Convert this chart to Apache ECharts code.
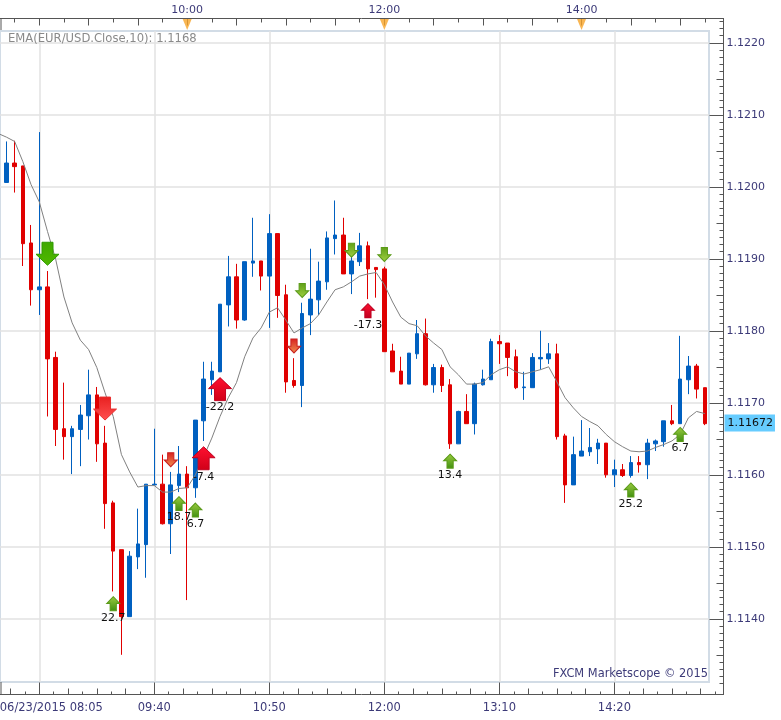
<!DOCTYPE html>
<html>
<head>
<meta charset="utf-8">
<style>html,body{margin:0;padding:0;background:#fff}#c{width:781px;height:720px}</style>
<script src="https://cdn.jsdelivr.net/npm/echarts@6/dist/echarts.min.js"></script>
</head>
<body>
<div id="c"></div>
<script>
const opens = [1.12013,1.12006,1.12033,1.12029,1.11922,1.11857,1.11861,1.11763,1.11664,1.11653,1.11663,1.11682,1.11711,1.11644,1.11561,1.11496,1.11403,1.11486,1.11503,1.11586,1.11587,1.11532,1.11585,1.11601,1.11582,1.11675,1.11732,1.11743,1.11836,1.11875,1.11815,1.11894,1.11897,1.11876,1.11935,1.11850,1.11731,1.11724,1.11822,1.11843,1.11868,1.11928,1.11933,1.11879,1.11896,1.11918,1.11888,1.11886,1.11772,1.11744,1.11726,1.11768,1.11796,1.11725,1.11749,1.11725,1.11643,1.11688,1.11671,1.11725,1.11732,1.11785,1.11783,1.11764,1.11721,1.11721,1.11761,1.11761,1.11768,1.11654,1.11586,1.11626,1.11632,1.11636,1.11644,1.11600,1.11607,1.11599,1.11617,1.11614,1.11643,1.11646,1.11675,1.11671,1.11732,1.11751,1.11721];
const closes = [1.12006,1.12033,1.12028,1.11921,1.11857,1.11861,1.11761,1.11663,1.11653,1.11664,1.11683,1.11711,1.11643,1.11560,1.11494,1.11403,1.11487,1.11504,1.11587,1.11587,1.11532,1.11586,1.11601,1.11582,1.11676,1.11733,1.11744,1.11837,1.11875,1.11815,1.11896,1.11897,1.11876,1.11935,1.11849,1.11729,1.11724,1.11824,1.11844,1.11869,1.11929,1.11933,1.11879,1.11897,1.11918,1.11886,1.11885,1.11771,1.11743,1.11726,1.11769,1.11796,1.11725,1.11749,1.11724,1.11643,1.11688,1.11671,1.11726,1.11733,1.11785,1.11782,1.11763,1.11721,1.11722,1.11763,1.11763,1.11768,1.11653,1.11586,1.11628,1.11633,1.11638,1.11644,1.11600,1.11607,1.11599,1.11617,1.11614,1.11644,1.11647,1.11675,1.11671,1.11733,1.11751,1.11719,1.11671];
const lows = [1.12003,1.12006,1.11992,1.11890,1.11835,1.11822,1.11681,1.11640,1.11621,1.11601,1.11612,1.11649,1.11618,1.11525,1.11438,1.11350,1.11403,1.11469,1.11457,1.11585,1.11531,1.11490,1.11576,1.11426,1.11568,1.11647,1.11711,1.11743,1.11806,1.11803,1.11814,1.11875,1.11856,1.11804,1.11818,1.11714,1.11721,1.11694,1.11794,1.11822,1.11857,1.11906,1.11879,1.11851,1.11890,1.11844,1.11846,1.11771,1.11743,1.11726,1.11726,1.11761,1.11724,1.11714,1.11715,1.11636,1.11643,1.11671,1.11656,1.11724,1.11732,1.11754,1.11737,1.11719,1.11704,1.11721,1.11746,1.11754,1.11649,1.11561,1.11586,1.11626,1.11626,1.11615,1.11596,1.11583,1.11597,1.11596,1.11603,1.11594,1.11633,1.11639,1.11669,1.11671,1.11712,1.11706,1.11669];
const highs = [1.12017,1.12063,1.12064,1.12029,1.11947,1.12076,1.11883,1.11771,1.11728,1.11668,1.11697,1.11746,1.11722,1.11668,1.11564,1.11496,1.11494,1.11553,1.11587,1.11664,1.11628,1.11604,1.11640,1.11612,1.11676,1.11757,1.11757,1.11837,1.11904,1.11893,1.11896,1.11957,1.11897,1.11962,1.11935,1.11864,1.11762,1.11839,1.11914,1.11896,1.11938,1.11981,1.11957,1.11904,1.11936,1.11924,1.11888,1.11889,1.11782,1.11764,1.11769,1.11815,1.11817,1.11754,1.11753,1.11733,1.11689,1.11712,1.11728,1.11746,1.11789,1.11794,1.11783,1.11774,1.11743,1.11769,1.11800,1.11783,1.11782,1.11657,1.11653,1.11676,1.11665,1.11650,1.11644,1.11621,1.11615,1.11626,1.11626,1.11650,1.11649,1.11675,1.11697,1.11793,1.11765,1.11754,1.11721];
const ema = [1.12074,1.12069,1.12063,1.12035,1.12003,1.11979,1.11938,1.11899,1.11847,1.11811,1.11787,1.11774,1.11749,1.11714,1.11681,1.11628,1.11604,1.11583,1.11585,1.11585,1.11576,1.11576,1.11581,1.11582,1.11600,1.11625,1.11651,1.11681,1.11707,1.11728,1.11764,1.11790,1.11804,1.11826,1.11832,1.11815,1.11797,1.11804,1.11810,1.11822,1.11840,1.11857,1.11861,1.11868,1.11876,1.11879,1.11881,1.11864,1.11840,1.11819,1.11810,1.11807,1.11793,1.11783,1.11774,1.11750,1.11739,1.11726,1.11726,1.11728,1.11739,1.11746,1.11750,1.11743,1.11740,1.11743,1.11746,1.11750,1.11729,1.11707,1.11693,1.11681,1.11674,1.11668,1.11656,1.11646,1.11639,1.11633,1.11632,1.11633,1.11638,1.11642,1.11647,1.11656,1.11679,1.11688,1.11685];
const categories = opens.map((_, i) => String(i));
const lastPrice = 1.11672;

// Trade signals: candle index, price level, realised P/L label
const smallGreenUpIdx = [14,22,24,55,77,83];
const smallGreenUpPrice = [1.11421,1.11560,1.11551,1.11619,1.11579,1.11656];
const smallGreenUpLabel = ['22.7','18.7','6.7','13.4','25.2','6.7'];
const smallGreenDownIdx = [37,43,47];
const smallGreenDownPrice = [1.11856,1.11912,1.11906];
const largeGreenDownIdx = [6];
const largeGreenDownPrice = [1.11907];
const largeRedDownIdx = [13];
const largeRedDownPrice = [1.11692];
const smallRedDownIdx = [21,36];
const smallRedDownPrice = [1.11621,1.11779];
const largeRedUpIdx = [25,27];
const largeRedUpPrice = [1.11623,1.11719];
const largeRedUpLabel = ['-7.4','-22.2'];
const smallRedUpIdx = [45];
const smallRedUpPrice = [1.11828];
const smallRedUpLabel = ['-17.3'];

const priceTicks = [1.114,1.115,1.116,1.117,1.118,1.119,1.120,1.121,1.122];
const bottomLabelIdx = [5,19,33,47,61,75];
const bottomLabels = ['06/23/2015 08:05','09:40','10:50','12:00','13:10','14:20'];
const topLabelIdx = [23,47,71];
const topLabels = ['10:00','12:00','14:00'];

[opens,closes,lows,highs,ema].forEach(a => { if (a.length !== 87) throw new Error('len ' + a.length); });

// Geometry
const FONT = 'DejaVu Sans';
const NAVY = '#3c3a78';
const TICK = '#555555';
const plotLeft = -5.9, plotW = 714.8;
const band = plotW / categories.length;
const plotTop = 31, plotBottom = 682, outerTop = 18.5, outerBottom = 694.5, outerRight = 723.5;
const y1140 = 618.8, pxPerPrice = 72000;
const priceAt = y => 1.114 + (y1140 - y) / pxPerPrice;
const outerXMax = -0.5 + (outerRight - plotLeft) / band;
const seq = (a, s, b) => { const r = []; for (let v = a; v <= b + 1e-9; v += s) r.push(+v.toFixed(4)); return r; };

const bottomAll = seq(5 - 2 * 1.75, 1.75, outerXMax);
const bottomTall = bottomAll.filter((v, k) => k % 2 === 0 && k % 8 !== 2);
const bottomShort = bottomAll.filter((v, k) => k % 2 === 1);
const topAll = seq(2, 3, outerXMax);
const topTall = topAll.filter((v, k) => k % 2 === 1);
const topShort = topAll.filter((v, k) => k % 2 === 0);
const minorPrices = seq(1.1131, 0.0001, 1.1224).filter(v => Math.round(v * 1e4) % 5 !== 0);
const midPrices = seq(1.1135, 0.001, 1.1225);

const outerGrid = () => ({ left: plotLeft, top: outerTop, width: outerRight - plotLeft, height: outerBottom - outerTop, show: false, outerBoundsMode: 'none', containLabel: false });
const grids = [
  { left: plotLeft, top: plotTop, width: plotW, height: plotBottom - plotTop, show: false, outerBoundsMode: 'none', containLabel: false },
  outerGrid(), outerGrid(), outerGrid(), outerGrid()
];

const tickLine = { show: true, onZero: false, lineStyle: { color: TICK, width: 1 } };
const noLine = { show: false, onZero: false };
const tickX = (gridIndex, position, values, length, extra) => Object.assign({
  type: 'value', gridIndex, position, min: -0.5, max: outerXMax,
  axisLine: noLine, splitLine: { show: false },
  axisLabel: { show: false },
  axisTick: { show: true, inside: true, length, customValues: values, lineStyle: { color: TICK, width: 1 } }
}, extra || {});
const tickY = (gridIndex, values, length, extra) => Object.assign({
  type: 'value', gridIndex, position: 'right', scale: true,
  min: priceAt(outerBottom), max: priceAt(outerTop),
  axisLine: noLine, splitLine: { show: false },
  axisLabel: { show: false },
  axisTick: { show: true, inside: true, length, customValues: values, lineStyle: { color: TICK, width: 1 } }
}, extra || {});

const xAxis = [
  { type: 'category', gridIndex: 0, data: categories, position: 'top', show: false, boundaryGap: true, axisLine: noLine },
  { type: 'value', gridIndex: 0, min: -0.5, max: categories.length - 0.5, position: 'bottom',
    axisLine: noLine, axisLabel: { show: false },
    axisTick: { show: false, customValues: bottomLabelIdx },
    splitLine: { show: true, lineStyle: { color: '#e2e2e2', width: 1.5 } } },
  // grid 1
  tickX(1, 'bottom', bottomLabelIdx, 12, {
    axisLine: tickLine,
    axisLabel: { show: true, margin: 8, customValues: bottomLabelIdx,
      color: NAVY, fontFamily: FONT, fontSize: 11.5,
      formatter: v => { const k = bottomLabelIdx.indexOf(v); return k === 0 ? '{first|' + bottomLabels[k] + '}' : bottomLabels[k]; },
      rich: { first: { padding: [0, 0, 0, 24], color: NAVY, fontFamily: FONT, fontSize: 11.5 } } } }),
  tickX(1, 'top', topTall, 7, { axisLine: tickLine }),
  // grid 2
  tickX(2, 'bottom', bottomTall, 6),
  tickX(2, 'top', topShort, 4),
  // grid 3
  tickX(3, 'bottom', bottomShort, 3),
  tickX(3, 'top', topLabelIdx, 0, {
    axisTick: { show: false, customValues: topLabelIdx },
    axisLabel: { show: true, margin: 3, customValues: topLabelIdx,
      color: NAVY, fontFamily: FONT, fontSize: 11,
      formatter: v => topLabels[topLabelIdx.indexOf(v)] } }),
  // grid 4
  tickX(4, 'bottom', [], 0, { axisTick: { show: false } })
];

const yAxis = [
  { type: 'value', gridIndex: 0, position: 'right', scale: true,
    min: priceAt(plotBottom), max: priceAt(plotTop),
    axisLine: noLine, axisLabel: { show: false },
    axisTick: { show: false, customValues: priceTicks },
    splitLine: { show: true, lineStyle: { color: '#e2e2e2', width: 1.5 } } },
  tickY(1, priceTicks, 14, {
    axisLine: tickLine,
    axisLabel: { show: true, margin: 3, customValues: priceTicks, color: NAVY,
      fontFamily: FONT, fontSize: 11, formatter: v => v.toFixed(4) } }),
  tickY(2, midPrices, 7),
  tickY(3, minorPrices, 4),
  tickY(4, [lastPrice], 0, {
    axisTick: { show: false, customValues: [lastPrice] },
    axisLabel: { show: true, margin: 1, customValues: [lastPrice], color: '#111',
      backgroundColor: '#66ccff', padding: [3, 2, 3, 3],
      fontFamily: FONT, fontSize: 11, formatter: v => v.toFixed(5) } })
];

const grad = (c0, c1) => ({ type: 'linear', x: 0, y: 0, x2: 0, y2: 1, colorStops: [{ offset: 0, color: c0 }, { offset: 1, color: c1 }] });
const UP = 'path://M11.5 0 L23 11 L17 11 L17 23 L6 23 L6 11 L0 11 Z';
const DOWN = 'path://M6 0 L17 0 L17 12 L23 12 L11.5 23 L0 12 L6 12 Z';
const signal = (idx, price, labels, symbol, size, top, bottom, border) => ({
  type: 'scatter', xAxisIndex: 0, yAxisIndex: 0, z: 6, clip: false, symbol, symbolSize: size,
  data: idx.map((x, k) => ({ value: [categories[x], price[k]],
    label: { show: !!labels, formatter: labels ? labels[k] : '' } })),
  itemStyle: { color: grad(top, bottom), borderColor: border, borderWidth: 1, opacity: 1 },
  label: { position: 'bottom', distance: 1, color: '#111', fontFamily: FONT, fontSize: 11 },
  emphasis: { disabled: true }
});

const series = [
  { type: 'candlestick', xAxisIndex: 0, yAxisIndex: 0, z: 3, barWidth: 4,
    data: opens.map((o, i) => [o, closes[i], lows[i], highs[i]]),
    itemStyle: { color: '#0060c0', color0: '#e00000', borderColor: '#0060c0', borderColor0: '#e00000', borderWidth: 1 } },
  { type: 'line', xAxisIndex: 0, yAxisIndex: 0, z: 4, data: ema, symbol: 'none', silent: true,
    lineStyle: { color: '#808080', width: 1 } },
  signal(smallGreenUpIdx, smallGreenUpPrice, smallGreenUpLabel, UP, [13, 14], '#9ccc40', '#3f8f10', '#5a9a18'),
  signal(smallGreenDownIdx, smallGreenDownPrice, null, DOWN, [13, 14], '#5f9f18', '#a0d040', '#5a9a18'),
  signal(largeGreenDownIdx, largeGreenDownPrice, null, DOWN, [23, 23], '#40a800', '#50b800', '#2f9a00'),
  signal(largeRedDownIdx, largeRedDownPrice, null, DOWN, [23, 23], '#e82020', '#ff5050', '#e83030'),
  signal(smallRedDownIdx, smallRedDownPrice, null, DOWN, [13, 14], '#d82020', '#f09050', '#c82020'),
  signal(largeRedUpIdx, largeRedUpPrice, largeRedUpLabel, UP, [23, 23], '#ff1030', '#d00018', '#c00020'),
  signal(smallRedUpIdx, smallRedUpPrice, smallRedUpLabel, UP, [13, 14], '#ff1030', '#c00020', '#c00020'),
  { type: 'scatter', xAxisIndex: 3, yAxisIndex: 1, z: 7, clip: false, symbol: 'triangle', symbolRotate: 180,
    symbolSize: [9, 11], symbolOffset: [0, 6],
    data: topLabelIdx.map(i => [i, priceAt(outerTop)]),
    itemStyle: { color: '#f7a428' }, emphasis: { disabled: true } }
];

const frame = { type: 'group', silent: true, children: [
  { type: 'rect', z: 0, shape: { x: 0, y: 31, width: 709, height: 651 }, style: { fill: 'none', stroke: '#d2dce6', lineWidth: 2 } },
  { type: 'line', z: 5, shape: { x1: 1, y1: 18, x2: 1, y2: 30 }, style: { stroke: TICK, lineWidth: 1 } },
  { type: 'line', z: 5, shape: { x1: 1, y1: 682, x2: 1, y2: 694 }, style: { stroke: TICK, lineWidth: 1 } }
] };

const chart = echarts.init(document.getElementById('c'), null, { renderer: 'canvas' });
chart.setOption({
  animation: false, backgroundColor: '#ffffff',
  grid: grids, xAxis, yAxis, series,
  tooltip: { show: false },
  title: [
    { text: 'EMA(EUR/USD.Close,10): 1.1168', left: 3, top: 28,
      textStyle: { color: '#8a8a8a', fontFamily: FONT, fontSize: 11.6, fontWeight: 'normal' } },
    { text: 'FXCM Marketscope © 2015', right: 68, top: 664,
      textStyle: { color: NAVY, fontFamily: FONT, fontSize: 11.4, fontWeight: 'normal' } }
  ],
  graphic: [frame]
});
</script>
</body>
</html>
